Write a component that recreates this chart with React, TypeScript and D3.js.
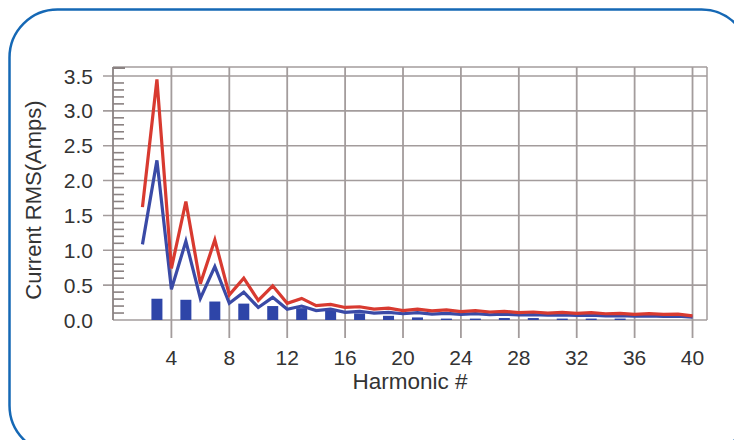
import React from "react";
import * as d3 from "d3";

const harmonics = [2,3,4,5,6,7,8,9,10,11,12,13,14,15,16,17,18,19,20,21,22,23,24,25,26,27,28,29,30,31,32,33,34,35,36,37,38,39,40];
const redSeries = [1.62,3.45,0.74,1.70,0.52,1.15,0.36,0.60,0.28,0.49,0.24,0.31,0.205,0.225,0.18,0.19,0.155,0.17,0.135,0.155,0.13,0.145,0.12,0.135,0.115,0.125,0.105,0.115,0.10,0.11,0.095,0.105,0.09,0.095,0.08,0.09,0.08,0.085,0.06];
const blueSeries = [1.085,2.29,0.44,1.13,0.31,0.765,0.24,0.40,0.18,0.325,0.155,0.20,0.135,0.155,0.11,0.125,0.10,0.11,0.09,0.105,0.085,0.095,0.08,0.09,0.075,0.085,0.072,0.078,0.068,0.072,0.065,0.068,0.06,0.063,0.055,0.058,0.052,0.055,0.04];
const barHarmonics = [3,5,7,9,11,13,15,17,19,21,23,25,27,29,31,33,35];
const barValues = [0.305,0.29,0.265,0.235,0.2,0.17,0.15,0.095,0.06,0.037,0.02,0.02,0.028,0.028,0.02,0.02,0.02];
const xTicks = [4,8,12,16,20,24,28,32,36,40];
const yTicks = [0,0.5,1,1.5,2,2.5,3,3.5];
const yTickLabels = ["0.0","0.5","1.0","1.5","2.0","2.5","3.0","3.5"];
const xTitle = "Harmonic #";
const yTitle = "Current RMS(Amps)";

export default function App() {
  const W = 734, H = 440;
  const left = 113, right = 707, top = 67, bottom = 320;
  const x = d3.scaleLinear().domain([0, 41]).range([113.5, 707]);
  const y = d3.scaleLinear().domain([0, 3.5]).range([320, 76]);
  const line = d3.line<number>().x((_, i) => x(harmonics[i])).y((d) => y(d));
  const minor = d3.range(0, 36).map((i) => i / 10).filter((v) => Math.round(v * 10) % 5 !== 0);
  const gridColor = "#a39c9c";
  const font = "'Liberation Sans', Arial, sans-serif";
  const textColor = "#333";
  const barW = 11;
  return (
    <svg width={W} height={H} style={{ position: "absolute", left: 0, top: 0 }}>
      <rect x={0} y={0} width={W} height={H} fill="#fff" />
      <rect x={9.5} y={9.5} width={740} height={444} rx={48} ry={48} fill="none" stroke="#1568b5" strokeWidth={2.5} />
      {/* frame */}
      <line x1={left} x2={right} y1={top} y2={top} stroke={gridColor} strokeWidth={1.5} />
      <line x1={right} x2={right} y1={top} y2={bottom} stroke={gridColor} strokeWidth={1.5} />
      {/* horizontal grid */}
      {yTicks.map((t) => (
        <line key={"h" + t} x1={t === 0 ? left : left - 10} x2={right} y1={y(t)} y2={y(t)} stroke={gridColor} strokeWidth={1.6} />
      ))}
      {/* vertical grid */}
      {xTicks.map((t) => (
        <line key={"v" + t} x1={x(t)} x2={x(t)} y1={top} y2={bottom + 18} stroke={gridColor} strokeWidth={1.8} />
      ))}
      {/* y axis */}
      <line x1={left} x2={left} y1={top} y2={bottom} stroke="#8a8282" strokeWidth={1.8} />
      <line x1={left} x2={left + 12} y1={top + 1} y2={top + 1} stroke="#8a8282" strokeWidth={2} />
      {minor.map((v) => (
        <line key={"m" + v} x1={left} x2={left + 11} y1={y(v)} y2={y(v)} stroke="#8a8282" strokeWidth={1.6} />
      ))}
      {/* bars */}
      {barHarmonics.map((h, i) => (
        <rect key={"b" + h} x={x(h) - barW / 2} y={y(barValues[i])} width={barW} height={y(0) - y(barValues[i])} fill="#2e45a8" />
      ))}
      <path d={line(blueSeries) || ""} fill="none" stroke="#3a4aa6" strokeWidth={3.2} strokeLinejoin="miter" />
      <path d={line(redSeries) || ""} fill="none" stroke="#d83a30" strokeWidth={3.2} strokeLinejoin="miter" />
      {/* y tick labels */}
      {yTicks.map((t, i) => (
        <text key={"yl" + t} x={93} y={y(t)} dy="0.36em" textAnchor="end" fontFamily={font} fontSize={21} fill={textColor}>
          {yTickLabels[i]}
        </text>
      ))}
      {xTicks.map((t) => (
        <text key={"xl" + t} x={x(t)} y={365} textAnchor="middle" fontFamily={font} fontSize={21} fill={textColor}>
          {t}
        </text>
      ))}
      <text x={410} y={389} textAnchor="middle" fontFamily={font} fontSize={22.5} fill={textColor}>
        {xTitle}
      </text>
      <text transform="translate(41,200) rotate(-90)" textAnchor="middle" fontFamily={font} fontSize={22} fill={textColor}>
        {yTitle}
      </text>
    </svg>
  );
}
